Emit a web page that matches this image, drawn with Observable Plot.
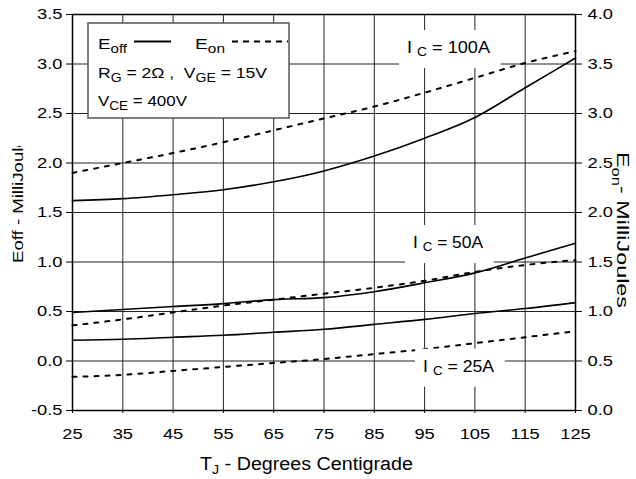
<!DOCTYPE html>
<html><head><meta charset="utf-8">
<script src="https://cdn.jsdelivr.net/npm/d3@7"></script>
<script src="https://cdn.jsdelivr.net/npm/@observablehq/plot@0.6"></script>
<style>
body{margin:0;background:#fff;}
svg text{font-family:"Liberation Sans",Arial,sans-serif;white-space:pre;}
</style>
</head><body><div id="chart"></div>
<script>
// ---- data ----
const temps = [25,35,45,55,65,75,85,95,105,115,125];
const currents = ["100A","50A","25A"];
const eoff100 = [1.62,1.64,1.68,1.73,1.81,1.92,2.07,2.25,2.46,2.76,3.06];
const eoff50  = [0.49,0.52,0.55,0.58,0.62,0.64,0.70,0.79,0.89,1.04,1.19];
const eoff25  = [0.21,0.22,0.24,0.26,0.29,0.32,0.37,0.42,0.48,0.53,0.59];
const eon100  = [2.40,2.50,2.60,2.71,2.83,2.95,3.07,3.21,3.36,3.51,3.63];
const eon50   = [0.86,0.92,0.99,1.06,1.12,1.18,1.24,1.31,1.40,1.47,1.52];
const eon25   = [0.34,0.36,0.40,0.44,0.48,0.52,0.57,0.62,0.68,0.74,0.80];
const yTicksLeft = [-0.5,0,0.5,1,1.5,2,2.5,3,3.5];   // Eoff axis
const eonOffset = 0.5;                               // right axis = left + 0.5
const labelX = [91.6, 92.8, 94.8];                   // I_C label anchors (data units)
const labelY = [3.106, 1.136, -0.113];

const eoffAll = [eoff100, eoff50, eoff25];
const eonAll = [eon100, eon50, eon25];
const offRows = [], onRows = [];
currents.forEach((c, i) => temps.forEach((t, j) => {
  offRows.push({c, t, v: eoffAll[i][j]});
  onRows.push({c, t, v: eonAll[i][j]});
}));

const NS = "http://www.w3.org/2000/svg";
function el(tag, attrs, parent) {
  const e = document.createElementNS(NS, tag);
  for (const k in attrs) e.setAttribute(k, attrs[k]);
  if (parent) parent.appendChild(e);
  return e;
}
function richText(parent, x, y, parts, size, subSize, shift, attrs = {}) {
  const t = el("text", {x, y, "font-size": size, fill: "#000", "text-anchor": "start", ...attrs}, parent);
  let shifted = false;
  parts.forEach(p => {
    const s = el("tspan", {}, t);
    if (p.sub) {
      s.setAttribute("font-size", subSize);
      if (!shifted) { s.setAttribute("dy", shift); shifted = true; }
    } else if (shifted) { s.setAttribute("dy", -shift); shifted = false; }
    s.textContent = p.t;
  });
  return t;
}
const stretch = len => ({textLength: len, lengthAdjust: "spacingAndGlyphs"});

function annotations(index, scales, values, dim) {
  const g = el("g", {"text-anchor": "start"});
  const ml = dim.marginLeft, mt = dim.marginTop;
  // I_C labels with white boxes
  const labelLen = [83, 70, 71];
  currents.forEach((c, i) => {
    const lg = el("g", {class: "ic-label"}, g);
    el("rect", {fill: "#fff"}, lg);
    richText(lg, scales.x(labelX[i]), scales.y(labelY[i]),
      [{t: "I "}, {t: "C", sub: true}, {t: " = " + c}], 17, 13, 3, stretch(labelLen[i]));
  });
  // legend box
  const lx = ml + 16, ly = mt + 9;
  el("rect", {x: lx, y: ly, width: 201, height: 95, fill: "#fff", stroke: "#555", "stroke-width": 1.5}, g);
  richText(g, lx + 10, ly + 26, [{t: "E"}, {t: "off", sub: true}], 15, 12, 4, stretch(29));
  el("line", {x1: lx + 46, x2: lx + 83, y1: ly + 18.5, y2: ly + 18.5, stroke: "#000", "stroke-width": 2.2}, g);
  richText(g, lx + 107, ly + 26, [{t: "E"}, {t: "on", sub: true}], 15, 12, 4, stretch(30));
  el("line", {x1: lx + 144, x2: lx + 200, y1: ly + 18.5, y2: ly + 18.5, stroke: "#000", "stroke-width": 2.2, "stroke-dasharray": "6,5"}, g);
  richText(g, lx + 10, ly + 55, [{t: "R"}, {t: "G", sub: true}, {t: " = 2Ω ,  V"}, {t: "GE", sub: true}, {t: " = 15V"}], 15, 12, 4, stretch(169));
  richText(g, lx + 10, ly + 83, [{t: "V"}, {t: "CE", sub: true}, {t: " = 400V"}], 15, 12, 4, stretch(89));
  // axis titles
  richText(g, 200, 470, [{t: "T"}, {t: "J", sub: true}, {t: " - Degrees Centigrade"}], 18, 13, 4, stretch(213));
  const clip = el("clipPath", {id: "ytclip"}, g);
  el("rect", {x: 0, y: 146, width: 60, height: 200}, clip);
  const lt = el("text", {transform: "translate(23,263) rotate(-90)", "font-size": 15, fill: "#000",
    "text-anchor": "start", ...stretch(135)}, el("g", {"clip-path": "url(#ytclip)"}, g));
  lt.textContent = "Eoff - MilliJoules";
  richText(g, 0, 0, [{t: "E"}, {t: "on", sub: true}, {t: "- MilliJoules"}], 17, 12, 5,
    {transform: "translate(617,152) rotate(90)", ...stretch(156)});
  return g;
}

const plot = Plot.plot({
  width: 636, height: 479,
  marginLeft: 72, marginRight: 61, marginTop: 14, marginBottom: 69,
  style: {fontFamily: '"Liberation Sans", Arial, sans-serif', background: "#fff", color: "#000"},
  x: {domain: [25, 125]},
  y: {domain: [-0.5, 3.5]},
  marks: [
    Plot.gridX({ticks: temps, stroke: "#222", strokeOpacity: 1, strokeWidth: 1}),
    Plot.gridY({ticks: yTicksLeft, stroke: "#222", strokeOpacity: 1, strokeWidth: 1}),
    Plot.axisY({ticks: yTicksLeft, anchor: "left", tickSize: 6, tickPadding: 4, tickFormat: d => d.toFixed(1), fontSize: 15, label: null}),
    Plot.axisY({ticks: yTicksLeft, anchor: "right", tickSize: 6, tickPadding: 6, tickFormat: d => (d + eonOffset).toFixed(1), fontSize: 15, label: null}),
    Plot.axisX({ticks: temps, anchor: "bottom", tickSize: 3, tickPadding: 15, tickFormat: d => String(d), fontSize: 15, label: null}),
    Plot.line(offRows, {x: "t", y: "v", z: "c", curve: "monotone-x", stroke: "#000", strokeWidth: 1.6}),
    Plot.line(onRows, {x: "t", y: d => d.v - eonOffset, z: "c", curve: "monotone-x", stroke: "#000", strokeWidth: 2, strokeDasharray: "4,7"}),
    Plot.frame({stroke: "#000", strokeWidth: 1.5}),
    annotations
  ]
});
document.getElementById("chart").append(plot);

// stretch tick labels slightly (reference glyphs are wide)
plot.querySelectorAll('g[aria-label$="tick label"] text').forEach(t => {
  const tr = t.getAttribute("transform") || "";
  t.setAttribute("transform", tr + " scale(1.22,1)");
});
// size the white boxes behind the I_C labels
plot.querySelectorAll(".ic-label").forEach(lg => {
  const b = lg.querySelector("text").getBBox();
  const r = lg.querySelector("rect");
  r.setAttribute("x", b.x - 8);
  r.setAttribute("y", b.y - 8);
  r.setAttribute("width", b.width + 18);
  r.setAttribute("height", b.height + 17);
});
</script>
</body></html>
